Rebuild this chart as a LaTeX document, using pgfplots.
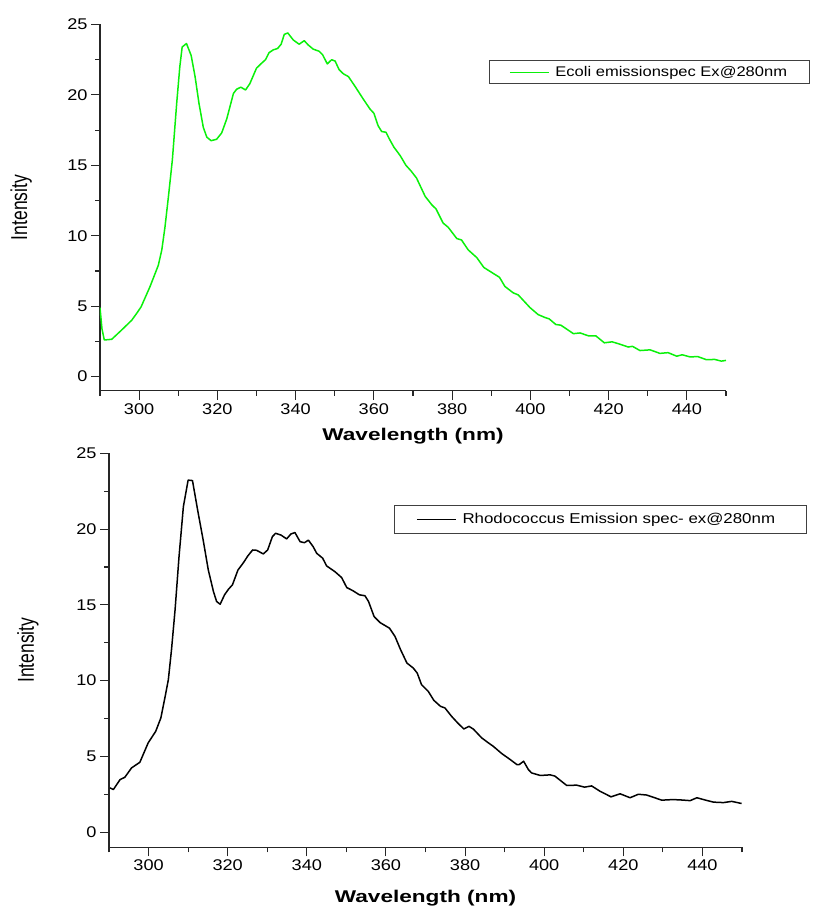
\documentclass[border=0pt]{standalone}
\usepackage{pgfplots}
\pgfplotsset{compat=1.18}
\usepackage{fontspec}
\setmainfont{Liberation Sans}
\newfontfamily\tickfont[FakeStretch=1.17]{Liberation Sans}
\newfontfamily\labfont[FakeStretch=1.33]{Liberation Sans}
\newfontfamily\yfont[FakeStretch=0.76]{Liberation Sans}
\newfontfamily\legfont[FakeStretch=1.18]{Liberation Sans}
\definecolor{specgreen}{RGB}{10,240,10}
\pgfplotsset{
  mystyle/.style={
    scale only axis,
    xmin=290, xmax=450, ymin=-1, ymax=25,
    axis x line*=bottom, axis y line*=left,
    axis line style={line width=1.3pt, black!85},
    xtick={300,320,...,440}, ytick={0,5,...,25},
    minor xtick={290,310,...,450}, minor ytick={2.5,7.5,...,22.5},
    tick align=outside,
    major tick length=9pt, minor tick length=5pt,
    every tick/.style={line width=1.1pt, black!85},
    /pgf/number format/assume math mode=true,
    tick label style={font=\tickfont\fontsize{15.5}{17}\selectfont},
    xlabel={\labfont\bfseries\fontsize{17}{19}\selectfont Wavelength (nm)},
    ylabel={\yfont\fontsize{23}{25}\selectfont Intensity},
    legend cell align=left,
    legend image code/.code={\draw[#1,line width=1.2pt] (0pt,0pt) -- (39pt,0pt);},
  }
}
\begin{document}
\begin{tikzpicture}
\path[use as bounding box] (0pt,0pt) rectangle (812pt,907pt);
\begin{axis}[mystyle,
  at={(100pt,516.3pt)}, anchor=south west,
  width=626pt, height=366.2pt,
  xlabel style={at={(axis description cs:0.5,-0.137)}, anchor=base},
  ylabel style={at={(axis description cs:-0.126,0.5)}, anchor=center},
  legend style={at={(axis description cs:0.621,0.9036)}, anchor=north west,
    draw=black!75, line width=1pt, font=\legfont\fontsize{14}{16}\selectfont,
    inner xsep=20pt, inner ysep=4pt, nodes={inner sep=2pt}},
]
\addplot[specgreen, line width=1.5pt, line join=round] coordinates {
(290,4.9) (290.5,3.4) (291.1,2.6) (293,2.65) (295.5,3.3) (298.1,4.0) (299.4,4.5) (300.5,4.95) (302.8,6.4) (304.9,7.9) (305.8,9.0) (306.6,10.6) (307.5,12.8) (308.5,15.4) (309.6,19.4) (310.4,22.0) (311.0,23.4) (312.1,23.65) (313.3,22.8) (314.3,21.3) (315.3,19.4) (316.4,17.7) (317.3,17.0) (318.4,16.75) (319.8,16.85) (321.1,17.3) (322.4,18.3) (324.1,20.1) (324.9,20.4) (326.0,20.55) (327.2,20.35) (328.3,20.8) (330.0,21.9) (331.3,22.25) (332.3,22.5) (333.2,23.0) (334.3,23.2) (335.4,23.3) (336.3,23.6) (337.1,24.3) (338.0,24.4) (339.4,23.9) (340.9,23.6) (342.2,23.85) (343.2,23.55) (344.5,23.25) (346.0,23.1) (346.9,22.85) (348.1,22.2) (349.2,22.5) (350.1,22.4) (351.1,21.8) (352.2,21.5) (353.5,21.3) (355.2,20.6) (357.3,19.7) (359.0,19.0) (360.0,18.7) (361.1,17.8) (362.0,17.4) (363.1,17.35) (363.9,16.9) (365.1,16.3) (366.7,15.7) (368.2,15.0) (369.5,14.6) (370.9,14.1) (373.1,12.8) (374.8,12.2) (375.9,11.9) (377.7,10.9) (379.0,10.6) (381.2,9.8) (382.4,9.7) (384.1,9.0) (386.3,8.45) (388.1,7.75) (390.1,7.4) (392.1,7.05) (393.5,6.4) (395.6,5.95) (396.9,5.8) (399.9,4.9) (402.0,4.4) (403.7,4.2) (404.8,4.1) (406.5,3.7) (407.8,3.65) (411.0,3.05) (412.7,3.1) (414.8,2.9) (416.7,2.9) (418.9,2.4) (420.9,2.47) (422.9,2.3) (425.0,2.1) (426.1,2.15) (428.0,1.85) (430.6,1.9) (433.1,1.65) (435.2,1.7) (437.4,1.45) (438.8,1.55) (440.8,1.4) (442.8,1.42) (445.0,1.2) (447.1,1.22) (448.8,1.1) (450,1.15)
};
\addlegendentry{\hspace*{4pt}Ecoli emissionspec Ex@280nm}
\end{axis}
\begin{axis}[mystyle,
  at={(109pt,59.7pt)}, anchor=south west,
  width=633pt, height=394pt,
  xlabel style={at={(axis description cs:0.5,-0.139)}, anchor=base},
  ylabel style={at={(axis description cs:-0.128,0.5)}, anchor=center},
  legend style={at={(axis description cs:0.450,0.869)}, anchor=north west,
    draw=black!75, line width=1pt, font=\legfont\fontsize{14.3}{16}\selectfont,
    inner xsep=22pt, inner ysep=6pt, nodes={inner sep=2pt}},
]
\addplot[black, line width=1.5pt, line join=round] coordinates {
(290.25,2.92) (291.1,2.81) (292.8,3.47) (294.0,3.62) (295.7,4.24) (297.8,4.61) (299.9,5.89) (301.8,6.65) (303.1,7.53) (304.2,8.96) (305.0,10.06) (305.8,12.04) (306.7,14.67) (307.7,18.18) (308.8,21.48) (310.0,23.23) (311.1,23.2) (312.4,21.26) (313.8,19.28) (315.1,17.3) (316.4,15.88) (317.2,15.22) (318.1,15.04) (319.2,15.66) (320.2,16.03) (321.2,16.32) (322.6,17.3) (324.0,17.79) (325.1,18.23) (326.3,18.62) (327.3,18.6) (329.0,18.36) (330.1,18.62) (331.3,19.5) (332.1,19.72) (333.5,19.6) (334.9,19.35) (336.0,19.68) (337.0,19.77) (338.3,19.17) (339.4,19.1) (340.4,19.27) (341.6,18.84) (342.5,18.4) (344.0,18.08) (345.0,17.57) (347.1,17.19) (348.8,16.8) (350.1,16.14) (351.6,15.94) (353.3,15.66) (354.7,15.6) (355.6,15.22) (357.0,14.23) (358.5,13.83) (360.9,13.46) (362.3,12.91) (363.7,12.04) (365.3,11.16) (366.9,10.83) (367.9,10.5) (369.0,9.73) (370.7,9.29) (372.1,8.7) (373.8,8.3) (374.9,8.2) (376.6,7.64) (378.3,7.16) (379.7,6.81) (381.0,6.98) (382.1,6.8) (384.2,6.22) (385.9,5.89) (387.1,5.67) (389.3,5.18) (391.2,4.83) (393.1,4.46) (393.7,4.46) (394.8,4.68) (396.0,4.13) (396.8,3.91) (399.0,3.74) (401.5,3.78) (402.7,3.7) (405.7,3.08) (408.2,3.1) (410.2,2.97) (412.0,3.05) (414.1,2.7) (416.9,2.33) (419.2,2.53) (421.7,2.27) (423.8,2.5) (425.9,2.45) (427.6,2.3) (429.7,2.11) (432.6,2.15) (434.8,2.12) (436.9,2.08) (438.6,2.27) (440.7,2.12) (442.8,1.98) (445.3,1.95) (447.4,2.03) (449.9,1.89)
};
\addlegendentry{\hspace*{4pt}Rhodococcus Emission spec- ex@280nm\hspace*{7pt}}
\end{axis}
\end{tikzpicture}
\end{document}
